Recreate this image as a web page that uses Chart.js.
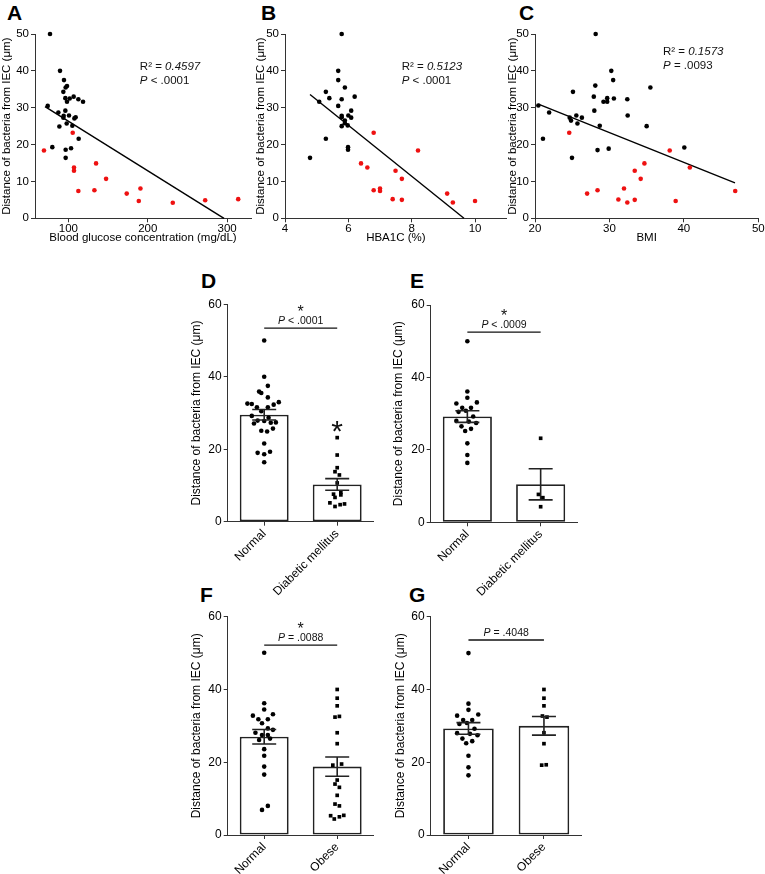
<!DOCTYPE html>
<html><head><meta charset="utf-8">
<script src="https://cdn.jsdelivr.net/npm/chart.js@4/dist/chart.umd.min.js"></script>
<style>
html,body{margin:0;padding:0;background:#fff;width:765px;height:874px;overflow:hidden;}
body{position:relative;font-family:'Liberation Sans',Arial,sans-serif;}
canvas{position:absolute;}
.lbl{position:absolute;font-weight:bold;font-size:21px;line-height:21px;color:#000;}
</style></head><body>
<div class="lbl" style="left:7px;top:2px">A</div>
<div class="lbl" style="left:261px;top:2px">B</div>
<div class="lbl" style="left:519px;top:2px">C</div>
<div class="lbl" style="left:201px;top:270px">D</div>
<div class="lbl" style="left:410px;top:270px">E</div>
<div class="lbl" style="left:200px;top:584px">F</div>
<div class="lbl" style="left:409px;top:584px">G</div>

<canvas id="cA" width="262" height="245" style="left:0px;top:0px"></canvas>
<canvas id="cB" width="261" height="245" style="left:254px;top:0px"></canvas>
<canvas id="cC" width="259" height="245" style="left:506px;top:0px"></canvas>
<canvas id="cD" width="196" height="340" style="left:189px;top:270px"></canvas>
<canvas id="cE" width="198" height="340" style="left:391px;top:270px"></canvas>
<canvas id="cF" width="196" height="292" style="left:189px;top:582px"></canvas>
<canvas id="cG" width="196" height="292" style="left:393px;top:582px"></canvas>

<script>
// ---------- DATA ----------
const yTitle = 'Distance of bacteria from IEC (\u03bcm)';
const scatterYTicks = [0, 10, 20, 30, 40, 50];
const barYTicks = [0, 20, 40, 60];

// Panel A: blood glucose
const glucoseNormal = [76.9, 89.5, 94.5, 96.6, 98.3, 93.7, 96.2, 101.7, 106.7, 112.6, 118.5, 98.3, 74, 87.4, 96.2, 94.1, 100.8, 107.6, 109.2, 93.7, 97.9, 105, 88.7, 113, 79.8, 96.6, 103.4, 96.6];
const distGlucoseNormal = [50, 40.0, 37.5, 35.5, 35.9, 34.3, 32.6, 32.5, 33.0, 32.3, 31.6, 31.6, 30.5, 28.7, 29.2, 27.8, 27.9, 27.1, 27.4, 27.3, 25.7, 25.1, 24.9, 21.6, 19.3, 18.6, 19.0, 16.4];
const glucoseDiabetic = [69.3, 105.5, 107.1, 107.1, 134.9, 147.5, 112.6, 132.8, 173.5, 190.8, 188.7, 231.5, 272.3, 313.9];
const distGlucoseDiabetic = [18.4, 23.2, 13.8, 12.9, 14.9, 10.7, 7.4, 7.6, 6.7, 8.1, 4.7, 4.2, 4.9, 5.2];
const fitGlucoseX = [70.6, 296];
const fitGlucoseY = [30.3, 0];
const glucoseTicks = [100, 200, 300];

// Panel B: HbA1c
const hba1cNormal = [5.79, 5.68, 5.68, 5.89, 5.29, 5.4, 5.79, 6.2, 5.08, 5.68, 6.09, 5.79, 5.79, 6.0, 6.09, 5.89, 5.89, 5.98, 5.79, 5.29, 5.99, 5.99, 4.79];
const distHba1cNormal = [50, 40.0, 37.5, 35.5, 34.3, 32.6, 32.3, 33.0, 31.6, 30.5, 29.2, 27.8, 27.4, 27.9, 27.3, 26.5, 25.8, 25.2, 25.0, 21.6, 19.3, 18.6, 16.4];
const hba1cDiabetic = [6.8, 8.2, 6.4, 6.6, 7.49, 7.69, 7.0, 7.0, 6.8, 9.12, 9.3, 7.4, 7.69, 10.0];
const distHba1cDiabetic = [23.2, 18.4, 14.9, 13.8, 12.9, 10.7, 8.1, 7.4, 7.6, 6.7, 4.3, 5.2, 5.0, 4.7];
const fitHba1cX = [4.79, 9.65];
const fitHba1cY = [33.6, 0];
const hba1cTicks = [4, 6, 8, 10];

// Panel C: BMI
const bmiNormal = [28.15, 30.25, 30.5, 35.5, 28.1, 25.1, 27.9, 29.7, 30.6, 32.4, 29.2, 29.7, 20.45, 21.9, 27.97, 25.55, 32.45, 26.3, 24.66, 24.84, 25.7, 28.7, 35.0, 21.07, 29.9, 28.4, 40.06, 24.97];
const distBmiNormal = [50, 40, 37.5, 35.5, 36.0, 34.3, 33.0, 32.6, 32.5, 32.3, 31.6, 31.6, 30.6, 28.7, 29.2, 27.9, 27.9, 27.3, 27.3, 26.5, 25.7, 25.1, 25.0, 21.6, 18.9, 18.5, 19.2, 16.4];
const bmiDiabetic = [24.6, 38.1, 34.7, 33.4, 40.8, 34.2, 31.96, 28.4, 27.0, 46.9, 31.2, 33.4, 32.4, 38.9];
const distBmiDiabetic = [23.2, 18.4, 14.9, 12.9, 13.8, 10.7, 8.1, 7.6, 6.7, 7.4, 5.1, 5.0, 4.3, 4.7];
const fitBmiX = [20.45, 46.87];
const fitBmiY = [31.0, 9.6];
const bmiTicks = [20, 30, 40, 50];

// Panel D: normal vs diabetic (all)
const catsDiabetic = ['Normal', 'Diabetic mellitus'];
const catsObese = ['Normal', 'Obese'];
const dNormal = [50, 40, 37.5, 35.9, 35.5, 34.3, 33.0, 32.6, 32.5, 32.3, 31.6, 31.6, 30.5, 29.2, 28.7, 27.9, 27.8, 27.4, 27.3, 27.1, 25.7, 25.1, 24.9, 21.6, 19.3, 19.0, 18.6, 16.4];
const dNormalJitter = [0, 0, 0.05, -0.07, -0.04, 0.05, 0.20, -0.23, -0.17, 0.13, -0.10, 0.05, -0.04, -0.17, 0.06, -0.09, 0, 0.16, 0.09, -0.14, 0.12, -0.04, 0.04, 0, 0.08, -0.09, 0, 0];
const dDiabetic = [23.2, 18.4, 14.9, 13.8, 12.9, 10.7, 8.1, 7.6, 7.4, 6.7, 5.2, 4.9, 4.7, 4.2];
const dDiabeticJitter = [0, 0, 0, -0.03, 0.03, 0, 0.05, -0.05, 0.05, -0.03, -0.1, 0.1, 0.04, -0.03];
const dMeans = [29.5, 10.3];
const dSem = [1.45, 1.6];

// Panel E
const eNormal = [50.0, 36.1, 34.4, 33.1, 32.8, 31.6, 31.6, 30.8, 30.5, 29.2, 28.0, 27.8, 27.4, 26.5, 25.8, 25.2, 21.8, 18.6, 16.4];
const eNormalJitter = [0, 0, 0, 0.13, -0.15, -0.07, 0.05, -0.02, -0.12, 0.08, -0.15, 0.02, 0.12, -0.08, 0.05, -0.03, 0, 0, 0];
const eDiabetic = [23.2, 7.7, 6.8, 4.3];
const eDiabeticJitter = [0, -0.03, 0.03, 0];
const eMeans = [29.2, 10.5];
const eSem = [1.6, 4.3];

// Panel F
const fNormal = [50.1, 36.2, 34.5, 32.8, 33.2, 31.8, 31.8, 30.7, 29.3, 28.9, 28.1, 27.5, 27.5, 26.1, 26.5, 23.6, 21.8, 18.8, 16.6, 6.9, 8.0];
const fNormalJitter = [0, 0, 0, -0.155, 0.12, -0.08, 0.05, -0.03, 0.05, 0.12, -0.12, -0.03, 0.05, -0.07, 0.08, 0, 0, 0, 0, -0.03, 0.05];
const fObese = [40, 37.6, 35.5, 32.4, 32.6, 28.1, 25.1, 19.2, 19.5, 15.1, 14.0, 13.1, 10.9, 8.5, 8.0, 5.3, 4.4, 5.0, 5.4];
const fObeseJitter = [0, 0, 0, -0.03, 0.03, 0, 0, -0.06, 0.06, 0, -0.03, 0.03, 0, -0.03, 0.03, -0.09, -0.04, 0.03, 0.09];
const fMeans = [27.0, 18.8];
const fSem = [2.0, 2.65];

// Panel G
const gNormal = eNormal;
const gNormalJitter = eNormalJitter;
const gObese = [40, 37.6, 35.5, 32.7, 32.4, 28.1, 25.1, 19.2, 19.3];
const gObeseJitter = [0, 0, 0, -0.02, 0.04, 0, 0, -0.03, 0.03];
const gMeans = [29.3, 30.0];
const gSem = [1.6, 2.55];

// ---------- RENDERING ----------
const FF = "'Liberation Sans', Arial, sans-serif";
Chart.defaults.font.family = FF;
Chart.defaults.color = '#000';
const RED = '#ee1111';
const AX = '#333';

function makeExtras(cfg) {
  return {
    id: 'extras',
    afterDatasetsDraw(chart) {
      const ctx = chart.ctx;
      const xs = chart.scales.x, ys = chart.scales.y;
      ctx.save();
      function parts(list, x, y, size, center) {
        let widths = [], total = 0;
        list.forEach(p => { ctx.font = (p[1] ? 'italic ' : '') + size + 'px ' + FF; const w = ctx.measureText(p[0]).width; widths.push(w); total += w; });
        let cx = center ? x - total / 2 : x;
        ctx.textAlign = 'left'; ctx.textBaseline = 'alphabetic'; ctx.fillStyle = '#111';
        list.forEach((p, i) => { ctx.font = (p[1] ? 'italic ' : '') + size + 'px ' + FF; ctx.fillText(p[0], cx, y); cx += widths[i]; });
      }
      if (cfg.texts) cfg.texts.forEach(t => parts(t.parts, xs.getPixelForValue(t.x), ys.getPixelForValue(t.y), 11.5, false));
      if (cfg.means) {
        ctx.strokeStyle = '#222'; ctx.lineWidth = 1.6;
        cfg.means.forEach((m, i) => {
          const x = xs.getPixelForValue(i);
          const yt = ys.getPixelForValue(m + cfg.sems[i]);
          const yb = ys.getPixelForValue(m - cfg.sems[i]);
          ctx.beginPath();
          ctx.moveTo(x, yt); ctx.lineTo(x, yb);
          ctx.moveTo(x - 12, yt); ctx.lineTo(x + 12, yt);
          ctx.moveTo(x - 12, yb); ctx.lineTo(x + 12, yb);
          ctx.stroke();
        });
      }
      if (cfg.sig) {
        const x0 = xs.getPixelForValue(0), x1 = xs.getPixelForValue(1);
        const y = ys.getPixelForValue(cfg.sig.y);
        ctx.strokeStyle = '#111'; ctx.lineWidth = 1.3;
        ctx.beginPath(); ctx.moveTo(x0, y); ctx.lineTo(x1, y); ctx.stroke();
        parts(cfg.sig.parts, (x0 + x1) / 2, y - 4, 10.5, true);
        if (cfg.sig.star) {
          ctx.font = '16px ' + FF; ctx.textAlign = 'center'; ctx.fillStyle = '#111';
          ctx.fillText('*', (x0 + x1) / 2, y - 11.5);
        }
      }
      if (cfg.bigStar) {
        ctx.font = '30px ' + FF; ctx.textAlign = 'center'; ctx.textBaseline = 'alphabetic'; ctx.fillStyle = '#111';
        ctx.fillText('*', xs.getPixelForValue(cfg.bigStar.cat), ys.getPixelForValue(cfg.bigStar.v));
      }
      ctx.restore();
    }
  };
}

function axisCommon() {
  return {
    grid: { display: true, drawOnChartArea: false, drawTicks: true, tickLength: 4, color: AX, lineWidth: 1 },
    border: { display: true, color: AX, width: 1 },
  };
}

function pairs(xs, ys) { return xs.map((x, i) => ({ x: x, y: ys[i] })); }

function scatterChart(id, o) {
  return new Chart(document.getElementById(id), {
    type: 'scatter',
    data: { datasets: [
      { data: pairs(o.nx, o.ny), backgroundColor: '#000', borderColor: '#000', pointRadius: 2.3, borderWidth: 0, clip: false },
      { data: pairs(o.dx, o.dy), backgroundColor: RED, borderColor: RED, pointRadius: 2.3, borderWidth: 0, clip: false },
      { data: pairs(o.fx, o.fy), showLine: true, pointRadius: 0, borderColor: '#000', borderWidth: 1.4, fill: false, clip: false }
    ]},
    options: {
      responsive: false, animation: false, devicePixelRatio: 1,
      layout: { padding: { left: 0, top: 34, right: o.padR, bottom: 0 } },
      plugins: { legend: { display: false }, tooltip: { enabled: false } },
      scales: {
        x: Object.assign(axisCommon(), {
          type: 'linear', min: o.xmin, max: o.xmax,
          afterBuildTicks: s => { s.ticks = o.xticks.map(v => ({ value: v })); },
          afterFit: s => { s.height = o.hx; },
          ticks: { font: { size: 11.5 }, color: '#000', padding: 0, maxRotation: 0 },
          title: { display: true, text: o.xtitle, font: { size: 11.5, lineHeight: 1.2 }, padding: 0, color: '#000' }
        }),
        y: Object.assign(axisCommon(), {
          type: 'linear', min: 0, max: 50,
          afterBuildTicks: s => { s.ticks = scatterYTicks.map(v => ({ value: v })); },
          afterFit: s => { s.width = o.wy; },
          ticks: { font: { size: 11.5 }, color: '#000', padding: 2 },
          title: { display: true, text: yTitle, font: { size: 11.5, lineHeight: 1.2 }, padding: 0, color: '#000' }
        })
      }
    },
    plugins: [makeExtras({ texts: o.texts })]
  });
}

function barChart(id, o) {
  const pts = (vals, offs, cat) => vals.map((v, i) => ({ x: cat + offs[i], y: v }));
  return new Chart(document.getElementById(id), {
    type: 'bar',
    data: { labels: o.labels, datasets: [
      { type: 'bar', data: o.means, backgroundColor: '#fff', borderColor: '#222', borderWidth: 1.8, borderSkipped: false, grouped: false, barPercentage: 0.67, categoryPercentage: 1, xAxisID: 'x', yAxisID: 'y', order: 3 },
      { type: 'scatter', data: pts(o.v0, o.j0, 0), xAxisID: 'xp', yAxisID: 'y', pointStyle: 'circle', pointRadius: 2.3, backgroundColor: '#000', borderColor: '#000', borderWidth: 0, order: 1, clip: false },
      { type: 'scatter', data: pts(o.v1, o.j1, 1), xAxisID: 'xp', yAxisID: 'y', pointStyle: 'rect', pointRadius: 2.6, backgroundColor: '#000', borderColor: '#000', borderWidth: 0, order: 1, clip: false }
    ]},
    options: {
      responsive: false, animation: false, devicePixelRatio: 1,
      layout: { padding: { left: 0, top: o.padT, right: o.padR, bottom: 0 } },
      plugins: { legend: { display: false }, tooltip: { enabled: false } },
      scales: {
        x: {
          type: 'category', offset: true,
          grid: { display: true, drawOnChartArea: false, drawTicks: true, tickLength: 4, offset: false, color: AX },
          border: { display: true, color: AX, width: 1 },
          ticks: { minRotation: 45, maxRotation: 45, font: { size: 12 }, color: '#000', padding: 1, autoSkip: false },
          afterFit: s => { s.height = o.hx; }
        },
        xp: { type: 'linear', display: false, offset: false, min: -0.5, max: 1.5, grid: { offset: false } },
        y: Object.assign(axisCommon(), {
          type: 'linear', min: 0, max: 60,
          afterBuildTicks: s => { s.ticks = barYTicks.map(v => ({ value: v })); },
          afterFit: s => { s.width = o.wy; },
          ticks: { font: { size: 12 }, color: '#000', padding: 2 },
          title: { display: true, text: yTitle, font: { size: 12, lineHeight: 1.2 }, padding: 0, color: '#000' }
        })
      }
    },
    plugins: [makeExtras({ means: o.means, sems: o.sems, sig: o.sig, bigStar: o.bigStar })]
  });
}

scatterChart('cA', { nx: glucoseNormal, ny: distGlucoseNormal, dx: glucoseDiabetic, dy: distGlucoseDiabetic, fx: fitGlucoseX, fy: fitGlucoseY,
  xmin: 58, xmax: 330, xticks: glucoseTicks, xtitle: 'Blood glucose concentration (mg/dL)', wy: 35, hx: 26.7, padR: 11,
  texts: [ { x: 190, y: 40.2, parts: [['R\u00b2 = ', 0], ['0.4597', 1]] }, { x: 190, y: 36.4, parts: [['P', 1], [' < .0001', 0]] } ] });

scatterChart('cB', { nx: hba1cNormal, ny: distHba1cNormal, dx: hba1cDiabetic, dy: distHba1cDiabetic, fx: fitHba1cX, fy: fitHba1cY,
  xmin: 4, xmax: 11, xticks: hba1cTicks, xtitle: 'HBA1C (%)', wy: 31, hx: 26.7, padR: 8.3,
  texts: [ { x: 7.685, y: 40.2, parts: [['R\u00b2 = ', 0], ['0.5123', 1]] }, { x: 7.685, y: 36.4, parts: [['P', 1], [' < .0001', 0]] } ] });

scatterChart('cC', { nx: bmiNormal, ny: distBmiNormal, dx: bmiDiabetic, dy: distBmiDiabetic, fx: fitBmiX, fy: fitBmiY,
  xmin: 20, xmax: 50, xticks: bmiTicks, xtitle: 'BMI', wy: 29, hx: 26.7, padR: 6.7,
  texts: [ { x: 37.2, y: 44.25, parts: [['R\u00b2 = ', 0], ['0.1573', 1]] }, { x: 37.2, y: 40.45, parts: [['P', 1], [' = .0093', 0]] } ] });

barChart('cD', { labels: catsDiabetic, means: dMeans, sems: dSem, v0: dNormal, j0: dNormalJitter, v1: dDiabetic, j1: dDiabeticJitter,
  wy: 38.7, padT: 34.3, padR: 11.3, hx: 88.3,
  sig: { y: 53.4, star: true, parts: [['P', 1], [' < .0001', 0]] }, bigStar: { cat: 1, v: 22.2 } });

barChart('cE', { labels: catsDiabetic, means: eMeans, sems: eSem, v0: eNormal, j0: eNormalJitter, v1: eDiabetic, j1: eDiabeticJitter,
  wy: 39.7, padT: 35, padR: 11.7, hx: 87.7,
  sig: { y: 52.5, star: true, parts: [['P', 1], [' < .0009', 0]] } });

barChart('cF', { labels: catsObese, means: fMeans, sems: fSem, v0: fNormal, j0: fNormalJitter, v1: fObese, j1: fObeseJitter,
  wy: 38.7, padT: 34.7, padR: 11.3, hx: 39,
  sig: { y: 52.2, star: true, parts: [['P', 1], [' = .0088', 0]] } });

barChart('cG', { labels: catsObese, means: gMeans, sems: gSem, v0: gNormal, j0: gNormalJitter, v1: gObese, j1: gObeseJitter,
  wy: 37.7, padT: 34.7, padR: 7.3, hx: 39,
  sig: { y: 53.6, star: false, parts: [['P', 1], [' = .4048', 0]] } });
</script>
</body></html>
